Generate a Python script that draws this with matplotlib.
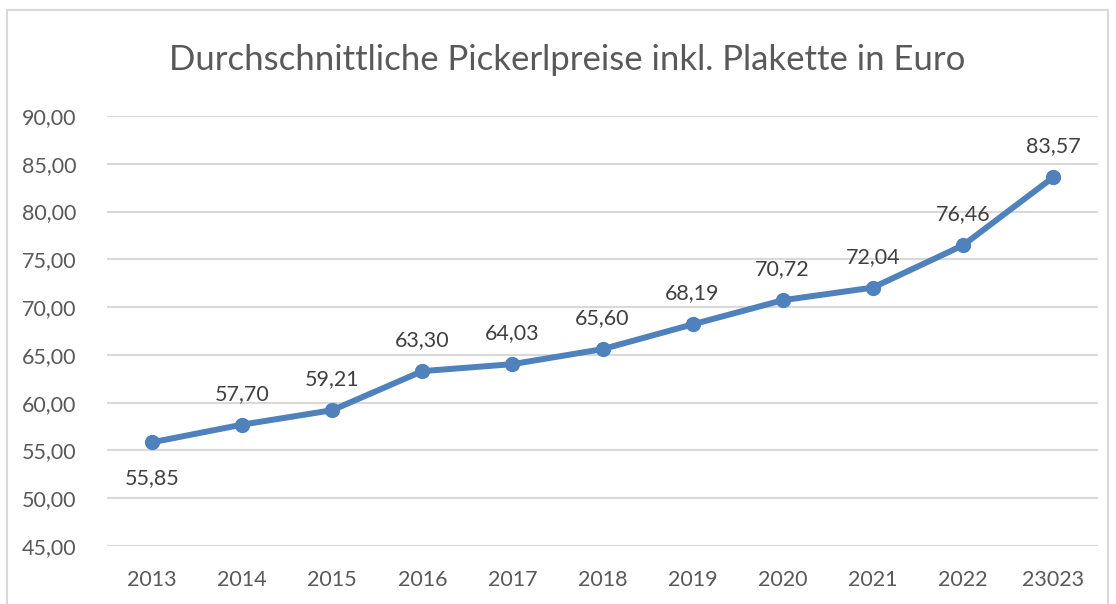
import matplotlib
matplotlib.use("Agg")
import matplotlib.pyplot as plt
from matplotlib.patches import Rectangle

years = ["2013", "2014", "2015", "2016", "2017", "2018", "2019", "2020", "2021", "2022", "23023"]
prices = [55.85, 57.70, 59.21, 63.30, 64.03, 65.60, 68.19, 70.72, 72.04, 76.46, 83.57]
label_below = [True] + [False] * 10
y_ticks = [45, 50, 55, 60, 65, 70, 75, 80, 85, 90]

plt.rcParams['font.family'] = ['Lato', 'DejaVu Sans']
W, H = 1116, 604
fig = plt.figure(figsize=(W / 100, H / 100), dpi=100)
fig.patch.set_facecolor("white")

# outer chart border
fig.add_artist(Rectangle((7 / W, -0.05), (1108 - 7) / W, 1.05 - 10 / H,
                         transform=fig.transFigure, fill=False,
                         edgecolor="#d9d9d9", linewidth=1.5))

left, right = 107 / W, 1098 / W
top, bottom = 1 - 116 / H, 1 - 546 / H
ax = fig.add_axes([left, bottom, right - left, top - bottom])

x = list(range(len(years)))
line_color = "#4F81BD"
ax.plot(x, prices, color=line_color, linewidth=4.3, marker="o", markersize=10,
        solid_capstyle="round", zorder=3)

for xi, v, below in zip(x, prices, label_below):
    txt = f"{v:.2f}".replace(".", ",")
    off = -36 if below else 31
    ax.annotate(txt, (xi, v), xytext=(0, off), textcoords="offset pixels",
                ha="center", va="center", fontsize=15.5, color="#404040")

ax.set_xlim(-0.5, len(years) - 0.5)
ax.set_ylim(45, 90)
ax.set_yticks(y_ticks)
ax.set_yticklabels([f"{t:.2f}".replace(".", ",") for t in y_ticks])
ax.set_xticks(x)
ax.set_xticklabels(years)
ax.tick_params(axis="both", length=0, labelsize=15.5, colors="#595959")
ax.tick_params(axis="y", pad=22)
ax.tick_params(axis="x", pad=17)
ax.grid(axis="y", color="#d9d9d9", linewidth=1.5)
ax.set_axisbelow(True)
for s in ax.spines.values():
    s.set_visible(False)

fig.text(0.5 * (160 + 975) / W, 1 - 60 / H,
         "Durchschnittliche Pickerlpreise inkl. Plakette in Euro",
         ha="center", va="center", fontsize=25, color="#595959")

fig.savefig("out.png", dpi=100, facecolor="white")
